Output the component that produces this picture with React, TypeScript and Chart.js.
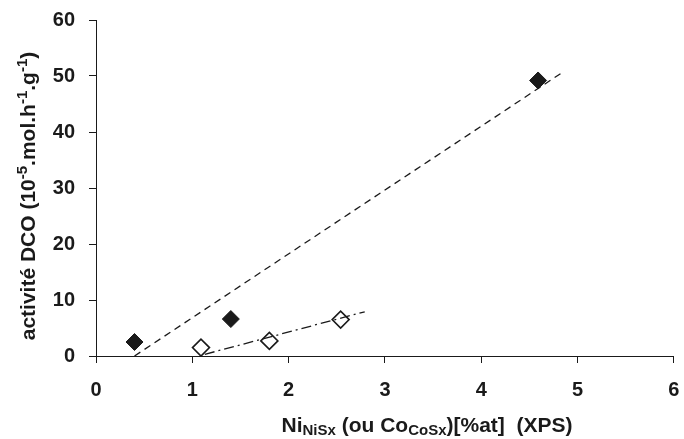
import React, { useEffect, useRef } from "react";
import { Chart, registerables } from "chart.js";

Chart.register(...registerables);

// Measured points
const niX = [0.4, 1.4, 4.59];
const niY = [2.5, 6.6, 49.2];
const coX = [1.09, 1.8, 2.54];
const coY = [1.5, 2.7, 6.5];
// Trend line endpoints
const trendNiX = [0.4, 4.83];
const trendNiY = [0, 50.5];
const trendCoX = [1.13, 2.79];
const trendCoY = [0.3, 7.9];

const xTicks = [0, 1, 2, 3, 4, 5, 6];
const yTicks = [0, 10, 20, 30, 40, 50, 60];

const FONT = "'Liberation Sans', Arial, sans-serif";
const INK = "#1a1a1a";

type Seg = { t: string; k?: "sub" | "sup" };
const xTitle: Seg[] = [
  { t: "Ni" },
  { t: "NiSx", k: "sub" },
  { t: " (ou Co" },
  { t: "CoSx", k: "sub" },
  { t: ")[%at]  (XPS)" },
];
const yTitle: Seg[] = [
  { t: "activité DCO (10" },
  { t: "-5", k: "sup" },
  { t: ".mol.h" },
  { t: "-1", k: "sup" },
  { t: ".g" },
  { t: "-1", k: "sup" },
  { t: ")" },
];

function drawRich(ctx: CanvasRenderingContext2D, segs: Seg[], size: number, small: number) {
  const bigF = `bold ${size}px ${FONT}`;
  const smallF = `bold ${small}px ${FONT}`;
  let total = 0;
  const widths = segs.map((s) => {
    ctx.font = s.k ? smallF : bigF;
    const w = ctx.measureText(s.t).width;
    total += w;
    return w;
  });
  let x = -total / 2;
  ctx.textBaseline = "alphabetic";
  ctx.textAlign = "left";
  ctx.fillStyle = INK;
  segs.forEach((s, i) => {
    ctx.font = s.k ? smallF : bigF;
    let dy = 0;
    if (s.k === "sub") dy = size * 0.15;
    if (s.k === "sup") dy = -size * 0.38;
    ctx.fillText(s.t, x, dy);
    x += widths[i];
  });
}

const titlePlugin = {
  id: "richTitles",
  afterDraw(chart: any) {
    const ctx = chart.ctx as CanvasRenderingContext2D;
    ctx.save();
    ctx.translate(427, 432);
    drawRich(ctx, xTitle, 21, 15);
    ctx.restore();
    ctx.save();
    ctx.translate(35, 196);
    ctx.rotate(-Math.PI / 2);
    drawRich(ctx, yTitle, 21, 15);
    ctx.restore();
  },
};

export default function App() {
  const ref = useRef<HTMLCanvasElement>(null);
  useEffect(() => {
    if (!ref.current) return;
    const pts = (xs: number[], ys: number[]) => xs.map((x, i) => ({ x, y: ys[i] }));
    const chart = new Chart(ref.current, {
      type: "scatter",
      data: {
        datasets: [
          {
            label: "trend Ni",
            data: pts(trendNiX, trendNiY),
            showLine: true,
            borderColor: INK,
            borderWidth: 1.3,
            borderDash: [7, 5],
            pointRadius: 0,
            fill: false,
          },
          {
            label: "trend Co",
            data: pts(trendCoX, trendCoY),
            showLine: true,
            borderColor: INK,
            borderWidth: 1.3,
            borderDash: [10, 4, 2, 4],
            pointRadius: 0,
            fill: false,
          },
          {
            label: "Ni",
            data: pts(niX, niY),
            pointStyle: "rectRot",
            pointRadius: 8.5,
            backgroundColor: INK,
            borderColor: INK,
            borderWidth: 1,
          },
          {
            label: "Co",
            data: pts(coX, coY),
            pointStyle: "rectRot",
            pointRadius: 8.5,
            backgroundColor: "#ffffff",
            borderColor: INK,
            borderWidth: 1.6,
          },
        ],
      },
      options: {
        animation: false,
        responsive: false,
        maintainAspectRatio: false,
        layout: { padding: { left: 0, top: 20, right: 8, bottom: 0 } },
        plugins: { legend: { display: false }, tooltip: { enabled: false } },
        scales: {
          x: {
            type: "linear",
            min: 0,
            max: 6,
            afterFit: (s: any) => {
              s.height = 83;
              s.paddingLeft = 0;
              s.paddingRight = 0;
            },
            afterBuildTicks: (s: any) => {
              s.ticks = xTicks.map((v) => ({ value: v }));
            },
            ticks: {
              color: INK,
              font: { family: FONT, size: 20, weight: "bold" },
              padding: 15,
            },
            grid: {
              drawOnChartArea: false,
              drawTicks: true,
              tickLength: 7,
              color: INK,
            },
            border: { display: true, color: INK, width: 1 },
          },
          y: {
            type: "linear",
            min: 0,
            max: 60,
            afterFit: (s: any) => {
              s.width = 96;
              s.paddingTop = 0;
              s.paddingBottom = 0;
            },
            afterBuildTicks: (s: any) => {
              s.ticks = yTicks.map((v) => ({ value: v }));
            },
            ticks: {
              color: INK,
              font: { family: FONT, size: 20, weight: "bold" },
              padding: 14,
            },
            grid: {
              drawOnChartArea: false,
              drawTicks: true,
              tickLength: 7,
              color: INK,
            },
            border: { display: true, color: INK, width: 1 },
          },
        },
      },
      plugins: [titlePlugin],
    } as any);
    return () => chart.destroy();
  }, []);
  return (
    <div style={{ position: "fixed", left: 0, top: 0, width: 684, height: 439, background: "#fff" }}>
      <canvas ref={ref} width={684} height={439} style={{ width: 684, height: 439, display: "block" }} />
    </div>
  );
}
